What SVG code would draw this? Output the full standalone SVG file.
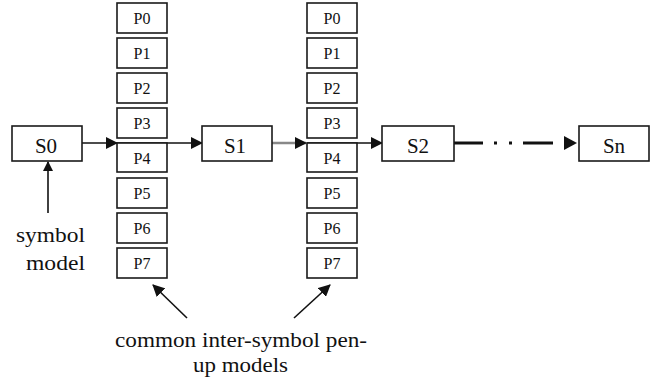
<svg xmlns="http://www.w3.org/2000/svg" width="665" height="385" viewBox="0 0 665 385">
<defs>
<marker id="ah" markerWidth="10" markerHeight="10" refX="9" refY="5" orient="auto" markerUnits="userSpaceOnUse">
<path d="M0,0 L10,5 L0,10 Z" fill="#111"/>
</marker>
<marker id="ahb" markerWidth="12" markerHeight="12" refX="11" refY="6" orient="auto" markerUnits="userSpaceOnUse">
<path d="M0,0 L12,6 L0,12 Z" fill="#111"/>
</marker>
</defs>
<rect width="665" height="385" fill="#fff"/>
<g id="connectors" stroke="#111" stroke-width="1.6" fill="none">
<line x1="82" y1="143" x2="117" y2="143" marker-end="url(#ahb)"/>
<line x1="117" y1="143" x2="202" y2="143" marker-end="url(#ahb)"/>
<line x1="272" y1="143" x2="306" y2="143" stroke="#888" stroke-width="2.5" marker-end="url(#ahb)"/>
<line x1="307" y1="143" x2="382" y2="143" marker-end="url(#ahb)"/>
<line x1="454" y1="143" x2="483" y2="143" stroke-width="3"/>
<line x1="494" y1="143" x2="497" y2="143" stroke-width="3"/>
<line x1="509" y1="143" x2="512" y2="143" stroke-width="3"/>
<line x1="523" y1="143" x2="553" y2="143" stroke-width="3"/>
<path d="M564,136 L577,143 L564,150 Z" fill="#111" stroke="none"/>
<line x1="48" y1="213" x2="48" y2="162" marker-end="url(#ah)"/>
<line x1="187" y1="318" x2="153" y2="285" marker-end="url(#ahb)"/>
<line x1="294" y1="318" x2="330" y2="285" marker-end="url(#ahb)"/>
</g>
<g id="S0"><rect fill="#fff" stroke="#1a1a1a" stroke-width="1.6" x="12" y="126" width="70" height="35"/><text x="46" y="153" style="font-family:'Liberation Serif',serif;font-size:21px" fill="#111" text-anchor="middle">S0</text></g>
<g id="S1"><rect fill="#fff" stroke="#1a1a1a" stroke-width="1.6" x="202" y="126" width="70" height="35"/><text x="235" y="153" style="font-family:'Liberation Serif',serif;font-size:21px" fill="#111" text-anchor="middle">S1</text></g>
<g id="S2"><rect fill="#fff" stroke="#1a1a1a" stroke-width="1.6" x="382" y="126" width="72" height="35"/><text x="418" y="153" style="font-family:'Liberation Serif',serif;font-size:21px" fill="#111" text-anchor="middle">S2</text></g>
<g id="Sn"><rect fill="#fff" stroke="#1a1a1a" stroke-width="1.6" x="579" y="126" width="70" height="35"/><text x="614" y="153" style="font-family:'Liberation Serif',serif;font-size:21px" fill="#111" text-anchor="middle">Sn</text></g>
<g id="PA">
<g id="PA0"><rect fill="#fff" stroke="#1a1a1a" stroke-width="1.6" x="117" y="3" width="50" height="30"/><text x="142" y="24" style="font-family:'Liberation Serif',serif;font-size:16px" fill="#111" text-anchor="middle">P0</text></g>
<g id="PA1"><rect fill="#fff" stroke="#1a1a1a" stroke-width="1.6" x="117" y="38" width="50" height="30"/><text x="142" y="59" style="font-family:'Liberation Serif',serif;font-size:16px" fill="#111" text-anchor="middle">P1</text></g>
<g id="PA2"><rect fill="#fff" stroke="#1a1a1a" stroke-width="1.6" x="117" y="73" width="50" height="30"/><text x="142" y="94" style="font-family:'Liberation Serif',serif;font-size:16px" fill="#111" text-anchor="middle">P2</text></g>
<g id="PA3"><rect fill="#fff" stroke="#1a1a1a" stroke-width="1.6" x="117" y="108" width="50" height="30"/><text x="142" y="129" style="font-family:'Liberation Serif',serif;font-size:16px" fill="#111" text-anchor="middle">P3</text></g>
<g id="PA4"><rect fill="#fff" stroke="#1a1a1a" stroke-width="1.6" x="117" y="143" width="50" height="29"/><text x="142" y="164" style="font-family:'Liberation Serif',serif;font-size:16px" fill="#111" text-anchor="middle">P4</text></g>
<g id="PA5"><rect fill="#fff" stroke="#1a1a1a" stroke-width="1.6" x="117" y="178" width="50" height="30"/><text x="142" y="199" style="font-family:'Liberation Serif',serif;font-size:16px" fill="#111" text-anchor="middle">P5</text></g>
<g id="PA6"><rect fill="#fff" stroke="#1a1a1a" stroke-width="1.6" x="117" y="213" width="50" height="30"/><text x="142" y="234" style="font-family:'Liberation Serif',serif;font-size:16px" fill="#111" text-anchor="middle">P6</text></g>
<g id="PA7"><rect fill="#fff" stroke="#1a1a1a" stroke-width="1.6" x="117" y="248" width="50" height="30"/><text x="142" y="269" style="font-family:'Liberation Serif',serif;font-size:16px" fill="#111" text-anchor="middle">P7</text></g>
</g>
<g id="PB">
<g id="PB0"><rect fill="#fff" stroke="#1a1a1a" stroke-width="1.6" x="307" y="3" width="50" height="30"/><text x="332" y="24" style="font-family:'Liberation Serif',serif;font-size:16px" fill="#111" text-anchor="middle">P0</text></g>
<g id="PB1"><rect fill="#fff" stroke="#1a1a1a" stroke-width="1.6" x="307" y="38" width="50" height="30"/><text x="332" y="59" style="font-family:'Liberation Serif',serif;font-size:16px" fill="#111" text-anchor="middle">P1</text></g>
<g id="PB2"><rect fill="#fff" stroke="#1a1a1a" stroke-width="1.6" x="307" y="73" width="50" height="30"/><text x="332" y="94" style="font-family:'Liberation Serif',serif;font-size:16px" fill="#111" text-anchor="middle">P2</text></g>
<g id="PB3"><rect fill="#fff" stroke="#1a1a1a" stroke-width="1.6" x="307" y="108" width="50" height="30"/><text x="332" y="129" style="font-family:'Liberation Serif',serif;font-size:16px" fill="#111" text-anchor="middle">P3</text></g>
<g id="PB4"><rect fill="#fff" stroke="#1a1a1a" stroke-width="1.6" x="307" y="143" width="50" height="29"/><text x="332" y="164" style="font-family:'Liberation Serif',serif;font-size:16px" fill="#111" text-anchor="middle">P4</text></g>
<g id="PB5"><rect fill="#fff" stroke="#1a1a1a" stroke-width="1.6" x="307" y="178" width="50" height="30"/><text x="332" y="199" style="font-family:'Liberation Serif',serif;font-size:16px" fill="#111" text-anchor="middle">P5</text></g>
<g id="PB6"><rect fill="#fff" stroke="#1a1a1a" stroke-width="1.6" x="307" y="213" width="50" height="30"/><text x="332" y="234" style="font-family:'Liberation Serif',serif;font-size:16px" fill="#111" text-anchor="middle">P6</text></g>
<g id="PB7"><rect fill="#fff" stroke="#1a1a1a" stroke-width="1.6" x="307" y="248" width="50" height="30"/><text x="332" y="269" style="font-family:'Liberation Serif',serif;font-size:16px" fill="#111" text-anchor="middle">P7</text></g>
</g>
<g id="symbol-model">
<text x="16" y="242" style="font-family:'Liberation Serif',serif;font-size:20px" fill="#111" textLength="69" lengthAdjust="spacingAndGlyphs">symbol</text>
<text x="26" y="270" style="font-family:'Liberation Serif',serif;font-size:20px" fill="#111" textLength="59" lengthAdjust="spacingAndGlyphs">model</text>
</g>
<g id="pen-up-label">
<text x="115" y="347" style="font-family:'Liberation Serif',serif;font-size:20px" fill="#111" textLength="252" lengthAdjust="spacingAndGlyphs">common inter-symbol pen-</text>
<text x="193" y="372" style="font-family:'Liberation Serif',serif;font-size:20px" fill="#111" textLength="95" lengthAdjust="spacingAndGlyphs">up models</text>
</g>
</svg>
